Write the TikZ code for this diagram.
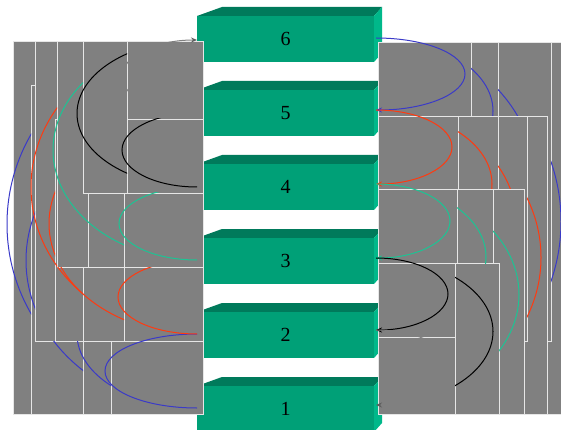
\documentclass[tikz,border=0pt]{standalone}
\usepackage{fontspec}
\setmainfont{Liberation Serif}
\usetikzlibrary{arrows.meta}
\definecolor{panelgray}{HTML}{808080}
\definecolor{panelline}{HTML}{E6E6E6}
\definecolor{boxfront}{HTML}{00A077}
\definecolor{boxtop}{HTML}{007A5B}
\definecolor{boxside}{HTML}{00B88A}
\definecolor{arcblue}{HTML}{3A3AC8}
\definecolor{arcred}{HTML}{FF3A10}
\definecolor{arcgreen}{HTML}{1CC494}
\definecolor{tipgray}{HTML}{5E5E5E}
\tikzset{
  panel/.style     = {fill=panelgray, draw=panelline, line width=0.9pt},
  arcline/.style   = {line width=1pt},
  bluearc/.style   = {arcline, arcblue},
  redarc/.style    = {arcline, arcred},
  greenarc/.style  = {arcline, arcgreen},
  blackarc/.style  = {arcline, black},
  grayarc/.style   = {arcline, panelgray},
  layerbox/.style  = {fill=boxfront, inner sep=0pt, minimum width=177, minimum height=46,
                      anchor=north west, font=\fontsize{20}{20}\selectfont},
  downarc/.style   = {start angle=-90, end angle=90},
  leftarc/.style   = {start angle=-90, end angle=-270}
}

\begin{document}
\begin{tikzpicture}[x=1pt, y=-1pt, >={Stealth[length=6pt,width=5pt]}]
  \useasboundingbox (0,0) rectangle (561,430);
  \foreach \n/\t in {6/16,5/90,4/164,3/238,2/312,1/386}{
    \fill[boxtop] (197,\t) -- (222,\t-9) -- (382,\t-9) -- (374,\t) -- cycle;
    \fill[boxside] (374,\t) -- (382,\t-9) -- (382,\t+37) -- (374,\t+46) -- cycle;
    \node[layerbox] (b\n) at (197,\t) {\n};
  }
  \foreach \n/\y in {6/40,5/113,4/187,3/260,2/334,1/408}{\coordinate (l\n) at (197,\y);}
  \foreach \n/\y in {6/38,5/110,4/184,3/258,2/330,1/405}{\coordinate (r\n) at (376,\y);}
  % left panels
  \foreach \xa/\ya/\yb in {13/41/414, 31/85/414, 35/41/341, 83/267/414, 55/119/341,
      83/193/341, 57/41/267, 88/119/267, 83/41/193, 124/193/267, 124/267/341,
      111/341/414, 127/41/119, 127/119/193}
    \draw[panel] (\xa,\ya) rectangle (203,\yb);
  % right panels
  \foreach \xb/\ya/\yb in {570/42/414, 551/42/341, 498/42/189, 547/116/414, 527/116/341,
      498/116/263, 471/42/116, 458/116/189, 524/189/414, 493/189/337, 457/189/263,
      499/263/414, 455/263/337, 455/337/414}
    \draw[panel] (378,\ya) rectangle (\xb,\yb);
  % left arcs
  \begin{scope}
    \clip (0,0) rectangle (31,430);
    \draw[bluearc] (l6) arc[leftarc, x radius=190, y radius=184];
  \end{scope}
  \begin{scope}
    \clip (0,0) -- (35,0) -- (35,341) -- (83,341) -- (83,430) -- (0,430) -- cycle;
    \draw[bluearc] (l5) arc[leftarc, x radius=171, y radius=147.5];
  \end{scope}
  \begin{scope}
    \clip (35,341) rectangle (111,430);
    \draw[bluearc] (l3) arc[leftarc, x radius=120, y radius=74];
  \end{scope}
  \draw[bluearc] (l2) arc[leftarc, x radius=92, y radius=37];
  \begin{scope}
    \clip (0,0) -- (57,0) -- (57,267) -- (83,267) -- (83,430) -- (0,430) -- cycle;
    \draw[redarc] (l6) arc[leftarc, x radius=166, y radius=147];
  \end{scope}
  \begin{scope}
    \clip (0,0) -- (55,0) -- (55,267) -- (124,267) -- (124,430) -- (0,430) -- cycle;
    \draw[redarc] (l5) arc[leftarc, x radius=148, y radius=110.5];
  \end{scope}
  \begin{scope}
    \clip (0,267) rectangle (203,430);
    \draw[redarc] (l3) arc[leftarc, x radius=79, y radius=37];
  \end{scope}
  \begin{scope}
    \clip (0,0) -- (83,0) -- (83,193) -- (124,193) -- (124,430) -- (0,430) -- cycle;
    \draw[greenarc] (l6) arc[leftarc, x radius=144, y radius=110];
  \end{scope}
  \begin{scope}
    \clip (0,193) rectangle (203,430);
    \draw[greenarc] (l4) arc[leftarc, x radius=78, y radius=36.5];
  \end{scope}
  \begin{scope}
    \clip (0,0) rectangle (127,430);
    \draw[blackarc] (l6) arc[leftarc, x radius=120, y radius=73.5];
  \end{scope}
  \begin{scope}
    \clip (0,119) rectangle (203,430);
    \draw[blackarc] (l5) arc[leftarc, x radius=75, y radius=37];
  \end{scope}
  \draw[grayarc, -{Stealth[length=6pt,width=5pt,color=tipgray]}]
    (l5) arc[start angle=90, end angle=270, x radius=75, y radius=36.5];
  % right arcs
  \begin{scope}
    \clip (551,0) rectangle (570,430);
    \draw[bluearc] (r6) arc[downarc, x radius=185, y radius=183.5];
  \end{scope}
  \begin{scope}
    \clip (498,0) rectangle (551,116);
    \draw[bluearc] (r6) arc[downarc, x radius=160, y radius=146];
  \end{scope}
  \begin{scope}
    \clip (471,0) rectangle (498,116);
    \draw[bluearc] (r6) arc[downarc, x radius=117, y radius=73];
  \end{scope}
  \draw[bluearc, ->] (r6) arc[downarc, x radius=89, y radius=36];
  \begin{scope}
    \clip (527,116) rectangle (547,414);
    \draw[redarc] (r5) arc[downarc, x radius=165, y radius=147.5];
  \end{scope}
  \begin{scope}
    \clip (498,116) rectangle (527,189);
    \draw[redarc] (r5) arc[downarc, x radius=140, y radius=110];
  \end{scope}
  \begin{scope}
    \clip (458,116) rectangle (498,189);
    \draw[redarc] (r5) arc[downarc, x radius=116, y radius=74];
  \end{scope}
  \draw[redarc, ->] (r5) arc[downarc, x radius=76, y radius=37];
  \begin{scope}
    \clip (493,189) -- (524,189) -- (524,414) -- (499,414) -- (499,263) -- (493,263) -- cycle;
    \draw[greenarc] (r4) arc[downarc, x radius=143, y radius=110.5];
  \end{scope}
  \begin{scope}
    \clip (457,189) rectangle (493,263);
    \draw[greenarc] (r4) arc[downarc, x radius=110, y radius=73];
  \end{scope}
  \draw[greenarc, ->] (r4) arc[downarc, x radius=74, y radius=37];
  \begin{scope}
    \clip (455,263) rectangle (499,414);
    \draw[blackarc] (r3) arc[downarc, x radius=117, y radius=73.5];
  \end{scope}
  \draw[blackarc, ->] (r3) arc[downarc, x radius=72, y radius=36];
  \draw[grayarc, -{Stealth[length=6pt,width=5pt,color=tipgray]}]
    (r2) arc[downarc, x radius=75, y radius=37.5];
\end{tikzpicture}
\end{document}
